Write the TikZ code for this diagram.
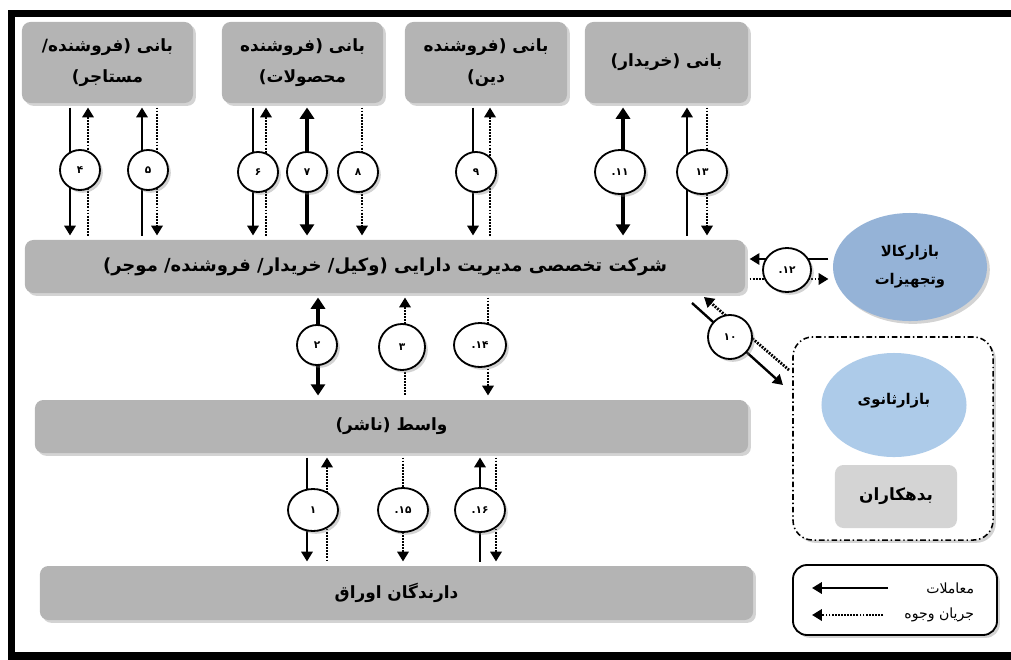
\documentclass[tikz,border=0pt]{standalone}
\usepackage{fontspec}
\usetikzlibrary{arrows.meta,shadows,shapes.geometric}
\newfontfamily\farsi[Script=Arabic]{DejaVu Sans}
\TeXXeTstate=1
\newcommand{\fa}[1]{\beginR #1\endR}
\definecolor{boxgray}{HTML}{B4B4B4}
\definecolor{lightgray2}{HTML}{D4D4D4}
\definecolor{mktblue}{HTML}{95B3D7}
\definecolor{secblue}{HTML}{ADCBE9}

\begin{document}
\begin{tikzpicture}[x=0.025cm,y=-0.025cm,
    >={Triangle[width=8pt,length=7pt]},
    shd/.style={drop shadow={opacity=0.35,shadow xshift=2pt,shadow yshift=-2pt}},
    tr/.style={line width=1.7pt},
    trk/.style={line width=3pt,>={Triangle[width=10pt,length=8pt]}},
    fl/.style={line width=2pt,dash pattern=on 1.3pt off 0.9pt}]

        \useasboundingbox (0,0) rectangle (1011,659);
        \draw[line width=5pt] (1011,13.5) -- (11.5,13.5) -- (11.5,656) -- (1011,656);

        % boxes
        \begin{scope}[every node/.style={rectangle, rounded corners=6pt, fill=boxgray, align=center, shd,
            font={\farsi\bfseries\fontsize{12}{22}\selectfont}}]
          \node[minimum width=4.275cm, minimum height=2.025cm] (s1) at (107.5,62.5) {\fa{بانی (فروشنده/}\\\fa{مستاجر)}};
          \node[minimum width=4.025cm, minimum height=2.025cm] (s2) at (302.5,62.5) {\fa{بانی (فروشنده}\\\fa{محصولات)}};
          \node[minimum width=4.05cm, minimum height=2.025cm]  (s3) at (486,62.5)   {\fa{بانی (فروشنده}\\\fa{دین)}};
          \node[minimum width=4.075cm, minimum height=2.025cm] (s4) at (666.5,62.5) {\raisebox{4pt}{\fa{بانی (خریدار)}}};
          \node[minimum width=18cm, minimum height=1.325cm, font={\farsi\bfseries\fontsize{12.8}{16}\selectfont}]
            (spv) at (385,266.5) {\fa{شرکت تخصصی مدیریت دارایی (وکیل/ خریدار/ فروشنده/ موجر)}};
          \node[minimum width=17.825cm, minimum height=1.325cm] (pub) at (391.5,426.5) {\fa{واسط (ناشر)}};
          \node[minimum width=17.825cm, minimum height=1.35cm]  (hold) at (396.5,593) {\fa{دارندگان اوراق}};
        \end{scope}

        \node[draw, rounded corners=14pt, dash pattern=on 4pt off 2pt on 1pt off 2pt, line width=1.1pt, fill=white, shd,
          minimum width=5cm, minimum height=5.075cm] (grp) at (893,438.5) {};
        \node[ellipse, fill=mktblue, shd, minimum width=3.85cm, minimum height=2.7cm, align=center,
          font={\farsi\bfseries\fontsize{10.5}{20}\selectfont}] (mkt) at (910,267) {\fa{بازارکالا}\\\fa{وتجهیزات}};
        \node[ellipse, fill=secblue, minimum width=3.625cm, minimum height=2.6cm,
          font={\farsi\bfseries\fontsize{10.5}{14}\selectfont}] (sec) at (894,405) {\raisebox{8pt}{\fa{بازارثانوی}}};
        \node[rectangle, rounded corners=6pt, fill=lightgray2, minimum width=3.05cm, minimum height=1.575cm,
          font={\farsi\bfseries\fontsize{12}{14}\selectfont}] (debt) at (896,496.5) {\fa{بدهکاران}};

        % connectors
        \begin{scope}[shorten <=3pt, shorten >=3pt]
          \draw[tr,->]  (s1.south -| 70,0)  -- (spv.north -| 70,0);
          \draw[fl,<-]  (s1.south -| 88,0)  -- (spv.north -| 88,0);
          \draw[tr,<-]  (s1.south -| 142,0) -- (spv.north -| 142,0);
          \draw[fl,->]  (s1.south -| 157,0) -- (spv.north -| 157,0);
          \draw[tr,->]  (s2.south -| 253,0) -- (spv.north -| 253,0);
          \draw[fl,<-]  (s2.south -| 266,0) -- (spv.north -| 266,0);
          \draw[trk,<->] (s2.south -| 307,0) -- (spv.north -| 307,0);
          \draw[fl,->]  (s2.south -| 362,0) -- (spv.north -| 362,0);
          \draw[tr,->]  (s3.south -| 473,0) -- (spv.north -| 473,0);
          \draw[fl,<-]  (s3.south -| 490,0) -- (spv.north -| 490,0);
          \draw[trk,<->] (s4.south -| 623,0) -- (spv.north -| 623,0);
          \draw[tr,<-]  (s4.south -| 687,0) -- (spv.north -| 687,0);
          \draw[fl,->]  (s4.south -| 707,0) -- (spv.north -| 707,0);

          \draw[trk,<->] (spv.south -| 318,0) -- (pub.north -| 318,0);
          \draw[fl,<-]  (spv.south -| 405,0) -- (pub.north -| 405,0);
          \draw[fl,->]  (spv.south -| 488,0) -- (pub.north -| 488,0);

          \draw[tr,->]  (pub.south -| 307,0) -- (hold.north -| 307,0);
          \draw[fl,<-]  (pub.south -| 327,0) -- (hold.north -| 327,0);
          \draw[fl,->]  (pub.south -| 403,0) -- (hold.north -| 403,0);
          \draw[tr,<-]  (pub.south -| 480,0) -- (hold.north -| 480,0);
          \draw[fl,->]  (pub.south -| 496,0) -- (hold.north -| 496,0);

          \draw[tr,->]  (mkt.west |- 0,259) -- (spv.east |- 0,259);
          \draw[fl,->]  (spv.east |- 0,279) -- (mkt.west |- 0,279);
        \end{scope}

        \coordinate (t10a) at (692,303);
        \coordinate (t10b) at (783,385);
        \coordinate (f10a) at (789,370);
        \coordinate (f10b) at (704,297);
        \draw[tr,->] (t10a) -- (t10b);
        \draw[fl,->] (f10a) -- (f10b);

        % numbers
        \begin{scope}[every node/.style={circle, draw, fill=white, line width=1.3pt, minimum size=1cm, inner sep=0pt, shd,
            font={\farsi\bfseries\fontsize{7.5}{8}\selectfont}}]
          \node (c4)  at (80,170)  {۴};
          \node (c5)  at (148,170) {۵};
          \node (c6)  at (258,172) {۶};
          \node (c7)  at (307,172) {۷};
          \node (c8)  at (358,172) {۸};
          \node (c9)  at (476,172) {۹};
          \node[ellipse, minimum width=1.25cm, minimum height=1.1cm] (c11) at (620,172) {۱۱.};
          \node[ellipse, minimum width=1.25cm, minimum height=1.1cm] (c13) at (702,172) {۱۳};
          \node[ellipse, minimum width=1.2cm, minimum height=1.1cm]  (c12) at (787,270) {۱۲.};
          \node[minimum size=1.1cm] (c10) at (730,337) {۱۰};
          \node (c2)  at (317,345) {۲};
          \node[minimum size=1.15cm] (c3)  at (402,347) {۳};
          \node[ellipse, minimum width=1.3cm, minimum height=1.1cm]  (c14) at (480,345) {۱۴.};
          \node[ellipse, minimum width=1.25cm, minimum height=1.05cm] (c1)  at (313,510) {۱};
          \node[ellipse, minimum width=1.25cm, minimum height=1.1cm]  (c15) at (403,510) {۱۵.};
          \node[ellipse, minimum width=1.25cm, minimum height=1.1cm]  (c16) at (480,510) {۱۶.};
        \end{scope}

        % legend
        \node[draw, rounded corners=10pt, line width=1.3pt, fill=white, shd, minimum width=5.1cm, minimum height=1.75cm] (lg) at (895,600) {};
        \node[anchor=east, font={\farsi\fontsize{10}{12}\selectfont}] (lg1) at (979,588) {\fa{معاملات}};
        \node[anchor=east, font={\farsi\fontsize{10}{12}\selectfont}] (lg2) at (979,615) {\fa{جریان وجوه}};
        \coordinate (lg1a) at (888,588);
        \coordinate (lg1b) at (812,588);
        \coordinate (lg2a) at (883,615);
        \coordinate (lg2b) at (812,615);
        \draw[tr,->] (lg1a) -- (lg1b);
        \draw[fl,->] (lg2a) -- (lg2b);

\end{tikzpicture}
\end{document}
